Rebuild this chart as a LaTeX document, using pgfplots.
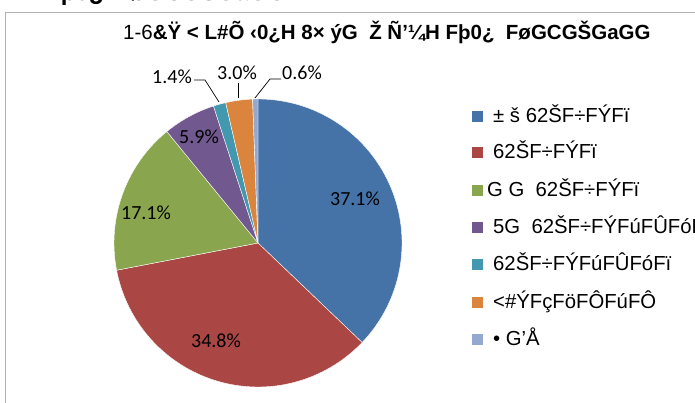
\documentclass[border=0pt]{standalone}
\usepackage{pgfplots}
\pgfplotsset{compat=1.18}
\usepackage{fontspec}
\setmainfont{Liberation Sans}
\newfontfamily\calib{Carlito}
\definecolor{c1}{HTML}{4572A7}
\definecolor{c2}{HTML}{AA4643}
\definecolor{c3}{HTML}{89A54E}
\definecolor{c4}{HTML}{71588F}
\definecolor{c5}{HTML}{4198AF}
\definecolor{c6}{HTML}{DB843D}
\definecolor{c7}{HTML}{93A9CF}
% slice shares in percent
\def\vA{37.1}\def\vB{34.8}\def\vC{17.1}\def\vD{5.9}\def\vE{1.4}\def\vF{3.0}\def\vG{0.6}
\pgfmathsetmacro\tot{\vA+\vB+\vC+\vD+\vE+\vF+\vG}
\pgfmathsetmacro\aA{90}
\pgfmathsetmacro\aB{\aA-360*\vA/\tot}
\pgfmathsetmacro\aC{\aB-360*\vB/\tot}
\pgfmathsetmacro\aD{\aC-360*\vC/\tot}
\pgfmathsetmacro\aE{\aD-360*\vD/\tot}
\pgfmathsetmacro\aF{\aE-360*\vE/\tot}
\pgfmathsetmacro\aG{\aF-360*\vF/\tot}
\pgfmathsetmacro\aH{\aG-360*\vG/\tot}
\begin{document}
\begin{tikzpicture}[x=1pt,y=1pt]
\useasboundingbox (0,0) rectangle (695,403);
\clip (0,0) rectangle (695,403);
\fill[white] (0,0) rectangle (695,403);
% frame
\draw[gray!60, line width=1pt] (5.5,-5) |- (705,390);
% cut-off text at top
\node[anchor=base west, inner sep=0, font=\fontsize{24}{28}\selectfont\bfseries] at (-2,402) {A.H Fþ0¿~ FøGCGŠGaGG};
% title
\node[anchor=base west, inner sep=0, font=\fontsize{20.5}{24}\selectfont] at (123,363) {1-6\textbf{\&Ÿ < L\#Õ ‹0¿H 8× ýG~ Ž Ñ'¼H Fþ0¿~ FøGCGŠGaGG}};
\begin{axis}[at={(258pt,160pt)}, anchor=origin, x=144pt, y=144pt,
  xmin=-1, xmax=1, ymin=-1, ymax=1, hide axis, clip=false]
\addplot[draw=white, line width=0.4pt, fill=c1, domain=\aB:\aA, samples=90, variable=\t] ({cos(\t)},{sin(\t)}) -- (axis cs:0,0) -- cycle;
\addplot[draw=white, line width=0.4pt, fill=c2, domain=\aC:\aB, samples=90, variable=\t] ({cos(\t)},{sin(\t)}) -- (axis cs:0,0) -- cycle;
\addplot[draw=white, line width=0.4pt, fill=c3, domain=\aD:\aC, samples=60, variable=\t] ({cos(\t)},{sin(\t)}) -- (axis cs:0,0) -- cycle;
\addplot[draw=white, line width=0.4pt, fill=c4, domain=\aE:\aD, samples=30, variable=\t] ({cos(\t)},{sin(\t)}) -- (axis cs:0,0) -- cycle;
\addplot[draw=white, line width=0.4pt, fill=c5, domain=\aF:\aE, samples=10, variable=\t] ({cos(\t)},{sin(\t)}) -- (axis cs:0,0) -- cycle;
\addplot[draw=white, line width=0.4pt, fill=c6, domain=\aG:\aF, samples=20, variable=\t] ({cos(\t)},{sin(\t)}) -- (axis cs:0,0) -- cycle;
\addplot[draw=white, line width=0.4pt, fill=c7, domain=\aH:\aG, samples=6, variable=\t] ({cos(\t)},{sin(\t)}) -- (axis cs:0,0) -- cycle;
\end{axis}
% data labels
\begin{scope}[every node/.style={inner sep=0, font=\fontsize{20}{24}\selectfont\calib}]
\node at (355,204) {37.1\%};
\node at (216,62) {34.8\%};
\node at (146,190) {17.1\%};
\node at (199,266) {5.9\%};
\node at (172,326) {1.4\%};
\node at (237,330) {3.0\%};
\node at (302,330) {0.6\%};
\end{scope}
\draw[black, line width=0.7pt] (194,323) -- (205,323) -- (219,301);
\draw[black, line width=0.7pt] (238,320) -- (238,305);
\draw[black, line width=0.7pt] (281,324) -- (270,324) -- (255,305);
% legend
\begin{scope}[every node/.style={anchor=base west, inner sep=0, font=\fontsize{20.3}{23}\selectfont}]
\fill[c1] (472,403-122) rectangle ++(11,11); \node at (493,403-122.5) {± š 62ŠF÷FÝFï};
\fill[c2] (472,403-158) rectangle ++(11,11); \node at (493,403-158.5) {62ŠF÷FÝFï};
\fill[c3] (472,403-196.5) rectangle ++(11,11); \node at (487,403-197) {G G~ 62ŠF÷FÝFï};
\fill[c4] (472,403-233.5) rectangle ++(11,11); \node at (493,403-234) {5G~ 62ŠF÷FÝFúFÛFóFï};
\fill[c5] (472,403-270.5) rectangle ++(11,11); \node at (493,403-271) {62ŠF÷FÝFúFÛFóFï};
\fill[c6] (472,403-308.5) rectangle ++(11,11); \node at (493,403-309) {<\#ÝFçFöFÔFúFÔ};
\fill[c7] (472,403-345.5) rectangle ++(11,11); \node at (493,403-346) {• G'Å};
\end{scope}
\end{tikzpicture}
\end{document}
